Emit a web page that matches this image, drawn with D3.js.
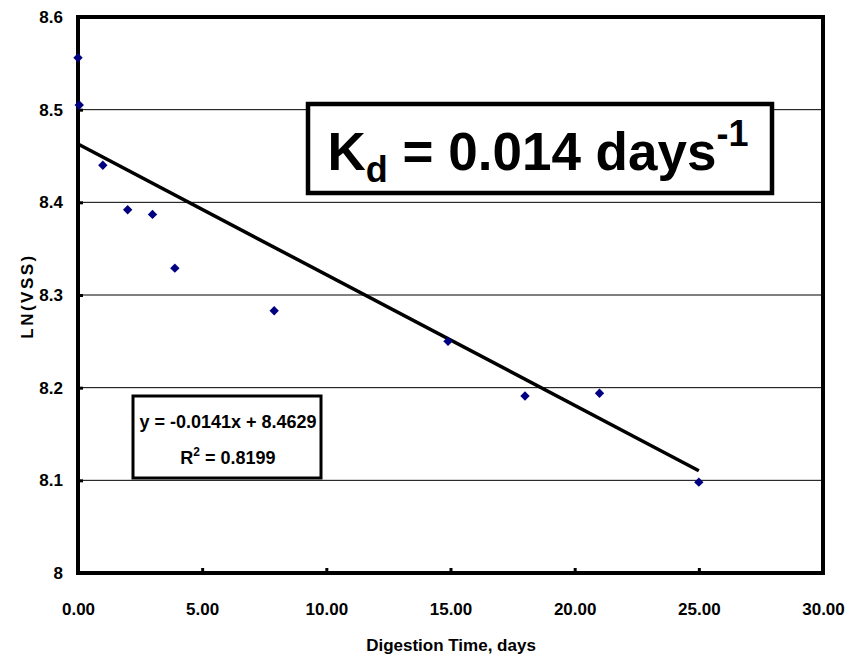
<!DOCTYPE html>
<html>
<head>
<meta charset="utf-8">
<script src="https://cdn.jsdelivr.net/npm/d3@7"></script>
<style>
  body { margin: 0; background: #fff; }
  text { font-family: "Liberation Sans", Arial, sans-serif; font-weight: bold; fill: #000; }
</style>
</head>
<body>
<svg id="chart" width="850" height="659"></svg>
<script>
const days = [0, 0.05, 1, 2, 3, 3.9, 7.9, 10.9, 14.9, 18, 21, 25];
const lnVss = [8.556, 8.505, 8.440, 8.392, 8.387, 8.329, 8.283, 8.417, 8.250, 8.191, 8.194, 8.098];
const xTicks = [0, 5, 10, 15, 20, 25, 30];
const yTicks = [8, 8.1, 8.2, 8.3, 8.4, 8.5, 8.6];
const slope = -0.0141;
const intercept = 8.4629;
const rSquared = 0.8199;

const width = 850, height = 659;
const margin = {top: 17, right: 27, bottom: 86, left: 78};
const svg = d3.select("#chart");

const x = d3.scaleLinear().domain([0, 30]).range([margin.left, width - margin.right]);
const y = d3.scaleLinear().domain([8, 8.6]).range([height - margin.bottom, margin.top]);

// gridlines
svg.append("g")
  .selectAll("line")
  .data(yTicks.slice(1, -1))
  .join("line")
  .attr("x1", x(0)).attr("x2", x(30))
  .attr("y1", d => y(d)).attr("y2", d => y(d))
  .attr("stroke", "#000").attr("stroke-width", 1);

// axes
svg.append("g")
  .attr("transform", "translate(0," + y(8) + ")")
  .call(d3.axisBottom(x).tickValues(xTicks).tickFormat(d3.format(".2f")).tickSizeInner(-5).tickSizeOuter(0).tickPadding(30))
  .call(g => g.select(".domain").remove())
  .call(g => g.selectAll(".tick line").attr("stroke-width", 3))
  .call(g => g.selectAll("text").style("font-size", "17px"));

svg.append("g")
  .attr("transform", "translate(" + x(0) + ",0)")
  .call(d3.axisLeft(y).tickValues(yTicks).tickFormat(d => d3.format("")(+d.toFixed(1))).tickSizeInner(-5).tickSizeOuter(0).tickPadding(15))
  .call(g => g.select(".domain").remove())
  .call(g => g.selectAll(".tick line").attr("stroke-width", 3))
  .call(g => g.selectAll("text").style("font-size", "17px"));

// frame
svg.append("rect")
  .attr("x", x(0)).attr("y", y(8.6))
  .attr("width", x(30) - x(0)).attr("height", y(8) - y(8.6))
  .attr("fill", "none").attr("stroke", "#000").attr("stroke-width", 4);

// trendline
const xs = d3.extent(days);
svg.append("line")
  .attr("x1", x(xs[0])).attr("y1", y(slope * xs[0] + intercept))
  .attr("x2", x(xs[1])).attr("y2", y(slope * xs[1] + intercept))
  .attr("stroke", "#000").attr("stroke-width", 3.5);

// points
svg.append("g")
  .selectAll("path")
  .data(days.map((d, i) => [d, lnVss[i]]))
  .join("path")
  .attr("d", d3.symbol(d3.symbolDiamond2, 56))
  .attr("transform", d => "translate(" + x(d[0]) + "," + y(d[1]) + ")")
  .attr("fill", "#000080");

// equation box
const eq = svg.append("g");
eq.append("rect")
  .attr("x", 133).attr("y", 396).attr("width", 188).attr("height", 82)
  .attr("fill", "#fff").attr("stroke", "#000").attr("stroke-width", 3);
eq.append("text")
  .attr("x", 228).attr("y", 428).attr("text-anchor", "middle")
  .style("font-size", "18px")
  .text("y = " + slope + "x + " + intercept);
const r2 = eq.append("text")
  .attr("x", 228).attr("y", 464).attr("text-anchor", "middle")
  .style("font-size", "18px");
r2.append("tspan").text("R");
r2.append("tspan").attr("dy", -8).style("font-size", "12px").text("2");
r2.append("tspan").attr("dy", 8).text(" = " + rSquared);

// Kd box
const kd = svg.append("g");
kd.append("rect")
  .attr("x", 308).attr("y", 104).attr("width", 464).attr("height", 89)
  .attr("fill", "#fff").attr("stroke", "#000").attr("stroke-width", 4.5);
const kt = kd.append("text")
  .attr("x", 538).attr("y", 170).attr("text-anchor", "middle")
  .style("font-size", "53px");
kt.append("tspan").text("K");
kt.append("tspan").attr("dy", 12).style("font-size", "36px").text("d");
kt.append("tspan").attr("dy", -12).text(" = 0.014 days");
kt.append("tspan").attr("dy", -24).style("font-size", "36px").text("-1");

// axis titles
svg.append("text")
  .attr("x", 451).attr("y", 651).attr("text-anchor", "middle")
  .style("font-size", "17px")
  .text("Digestion Time, days");
svg.append("text")
  .attr("transform", "translate(33,296) rotate(-90)")
  .attr("text-anchor", "middle")
  .style("font-size", "17px")
  .style("letter-spacing", "2.5px")
  .text("LN(VSS)");
</script>
</body>
</html>
